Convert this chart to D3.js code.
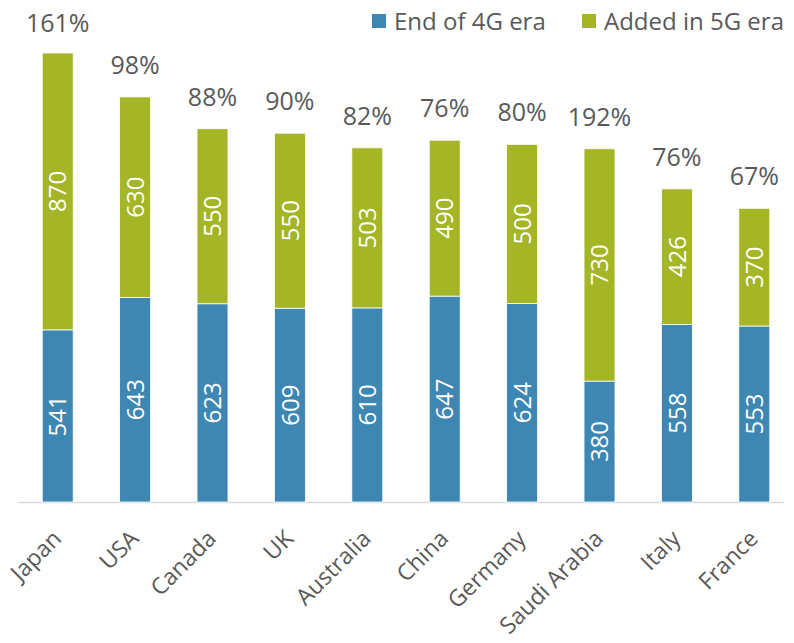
<!DOCTYPE html>
<html>
<head>
	<title></title>
	<script src="https://d3js.org/d3.v7.min.js" charset="utf-8"></script>
	<style type="text/css">
		body {
			margin: 0;
			background: #fff;
		}
		svg text {
			font-family: 'Open Sans', sans-serif;
		}
	</style>
</head>
<body>
	<script type="text/javascript">
		var w = 794;
		var h = 643;

		// data
		var countries = ['Japan', 'USA', 'Canada', 'UK', 'Australia', 'China', 'Germany', 'Saudi Arabia', 'Italy', 'France'];
		var end4G = [541, 643, 623, 609, 610, 647, 624, 380, 558, 553];
		var added5G = [870, 630, 550, 550, 503, 490, 500, 730, 426, 370];
		var growth = ['161%', '98%', '88%', '90%', '82%', '76%', '80%', '192%', '76%', '67%'];
		var seriesNames = ['End of 4G era', 'Added in 5G era'];

		var colors = ['#3e87b2', '#a4b526'];
		var gray = '#595959';

		var rows = countries.map(function (c, i) {
			return { country: c, end4G: end4G[i], added5G: added5G[i], growth: growth[i] };
		});

		var svg = d3.select('body')
			.append('svg')
			.attr('width', w)
			.attr('height', h);

		var x = d3.scaleBand()
			.domain(countries)
			.range([19, 793])
			.paddingInner(0.6)
			.paddingOuter(0.3);

		var y = d3.scaleLinear()
			.domain([0, 1411])
			.range([502, 53]);

		var stack = d3.stack().keys(['end4G', 'added5G']);
		var layers = stack(rows);

		// baseline
		svg.append('line')
			.attr('x1', 18)
			.attr('x2', 784)
			.attr('y1', y(0) + 0.5)
			.attr('y2', y(0) + 0.5)
			.style('stroke', '#d9d9d9')
			.style('stroke-width', 1.5);

		var g = svg.append('g')
			.selectAll('g')
			.data(layers)
			.enter()
			.append('g')
			.style('fill', function (d, i) { return colors[i]; });

		g.selectAll('rect')
			.data(function (d) { return d; })
			.enter()
			.append('rect')
			.attr('x', function (d) { return x(d.data.country); })
			.attr('width', x.bandwidth())
			.attr('y', function (d) { return y(d[1]); })
			.attr('height', function (d) { return y(d[0]) - y(d[1]); })
			.style('stroke', '#ffffff')
			.style('stroke-width', 0.8);

		// values inside segments
		g.selectAll('text')
			.data(function (d) { return d; })
			.enter()
			.append('text')
			.attr('transform', function (d) {
				var cx = x(d.data.country) + x.bandwidth() / 2;
				var cy = (y(d[0]) + y(d[1])) / 2;
				return 'translate(' + cx + ',' + cy + ') rotate(-90)';
			})
			.attr('text-anchor', 'middle')
			.attr('dy', '0.36em')
			.style('fill', '#ffffff')
			.style('font-size', '24px')
			.text(function (d) { return d[1] - d[0]; });

		// growth labels above bars
		svg.append('g')
			.selectAll('text')
			.data(rows)
			.enter()
			.append('text')
			.attr('x', function (d) { return x(d.country) + x.bandwidth() / 2; })
			.attr('y', function (d) { return Math.max(y(d.end4G + d.added5G) - 23, 32); })
			.attr('text-anchor', 'middle')
			.style('fill', gray)
			.style('font-size', '25px')
			.text(function (d) { return d.growth; });

		// category labels
		svg.append('g')
			.selectAll('text')
			.data(countries)
			.enter()
			.append('text')
			.attr('transform', function (d) {
				return 'translate(' + (x(d) + x.bandwidth() / 2 + 5) + ',' + 540 + ') rotate(-45)';
			})
			.attr('text-anchor', 'end')
			.style('fill', gray)
			.style('font-size', '23px')
			.text(function (d) { return d; });

		// legend
		var legendX = [372, 582];
		var legend = svg.append('g')
			.selectAll('g')
			.data(seriesNames)
			.enter()
			.append('g')
			.attr('transform', function (d, i) { return 'translate(' + legendX[i] + ',0)'; });

		legend.append('rect')
			.attr('x', 0)
			.attr('y', 14)
			.attr('width', 14)
			.attr('height', 14)
			.style('fill', function (d, i) { return colors[i]; });

		legend.append('text')
			.attr('x', 22)
			.attr('y', 30)
			.style('fill', gray)
			.style('font-size', '24px')
			.text(function (d) { return d; });
	</script>
</body>
</html>
